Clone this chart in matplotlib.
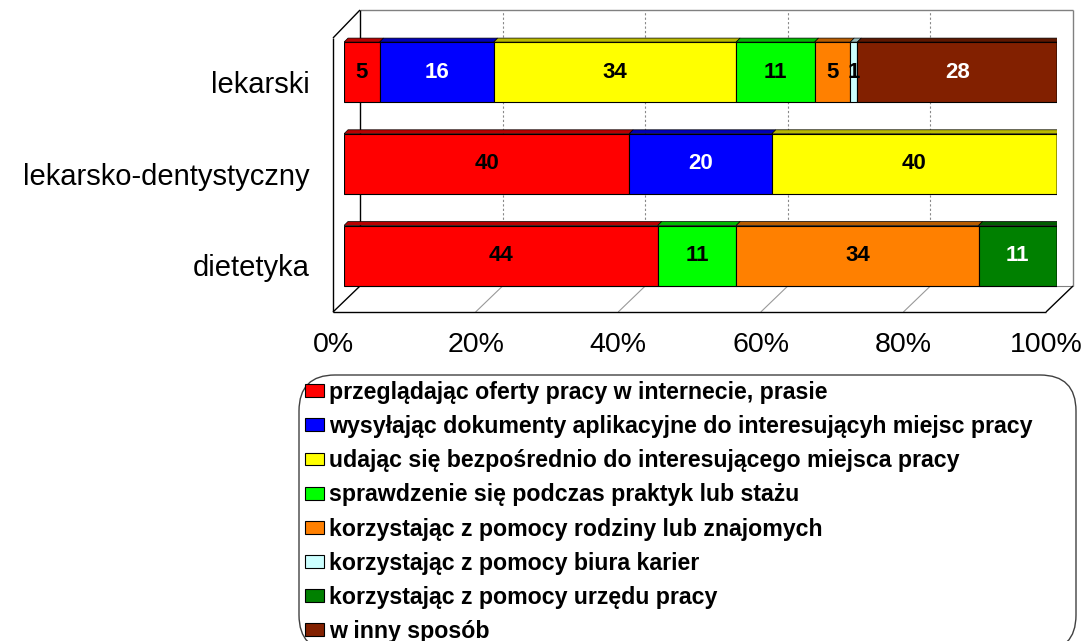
import matplotlib
matplotlib.use('Agg')
import matplotlib.pyplot as plt
from matplotlib.patches import Polygon, FancyBboxPatch, Patch
from matplotlib.colors import to_rgb
import numpy as np

plt.rcParams['font.family'] = ['Liberation Sans', 'DejaVu Sans']

# kierunki od dołu do góry
kierunki = ['dietetyka', 'lekarsko-dentystyczny', 'lekarski']
sposoby = [
    'przeglądając oferty pracy w internecie, prasie',
    'wysyłając dokumenty aplikacyjne do interesującyh miejsc pracy',
    'udając się bezpośrednio do interesującego miejsca pracy',
    'sprawdzenie się podczas praktyk lub stażu',
    'korzystając z pomocy rodziny lub znajomych',
    'korzystając z pomocy biura karier',
    'korzystając z pomocy urzędu pracy',
    'w inny sposób',
]
kolory = ['#ff0000', '#0000ff', '#ffff00', '#00ff00', '#ff8000', '#ccffff', '#008000', '#822000']
kolory_napisow = ['black', 'white', 'black', 'black', 'black', 'black', 'white', 'white']

# wartości (%) w kolejności: dietetyka, lekarsko-dentystyczny, lekarski
przegladajac = [44, 40, 5]
wysylajac = [0, 20, 16]
udajac = [0, 40, 34]
sprawdzenie = [11, 0, 11]
rodzina = [34, 0, 5]
biuro = [0, 0, 1]
urzad = [11, 0, 0]
inny = [0, 0, 28]
wartosci = [przegladajac, wysylajac, udajac, sprawdzenie, rodzina, biuro, urzad, inny]

procenty = [0, 20, 40, 60, 80, 100]
etykiety_osi = ['0%', '20%', '40%', '60%', '80%', '100%']

W, H = 1088, 641
fig = plt.figure(figsize=(W / 100, H / 100), dpi=100)
ax = fig.add_axes([344 / W, (H - 312) / H, 713 / W, 302 / H])
ymin, ymax = -0.616, 2.677
ax.set_xlim(0, 100)
ax.set_ylim(ymin, ymax)
ax.axis('off')

# przeliczenie pikseli na jednostki danych
sx = 100 / 713
sy = (ymax - ymin) / 302
tyl, przod = 16 * sx, -11 * sx
podloga_tyl = ymin + 26 * sy
gora_przod = ymax - 28 * sy


def linia(xs, ys, **kw):
    ax.plot(xs, ys, clip_on=False, solid_capstyle='butt', **kw)


# siatka
for t in procenty[1:-1]:
    linia([t + tyl, t + tyl], [podloga_tyl, ymax], color='#888888', lw=0.8, ls=(0, (2, 2)), zorder=0)
    linia([t + tyl, t + przod], [podloga_tyl, ymin], color='#999999', lw=0.8, zorder=0)

# ramka 3D
szary = '#808080'
linia([tyl, 100 + tyl], [ymax, ymax], color=szary, lw=1, zorder=0)
linia([100 + tyl, 100 + tyl], [ymax, podloga_tyl], color=szary, lw=1, zorder=0)
linia([tyl, 100 + tyl], [podloga_tyl, podloga_tyl], color=szary, lw=0.8, zorder=0)
linia([tyl, tyl], [ymax, podloga_tyl], color='black', lw=1, zorder=0)
linia([przod, 100 + przod], [ymin, ymin], color='black', lw=1, zorder=1)
linia([przod, tyl], [ymin, podloga_tyl], color='black', lw=1, zorder=1)
linia([100 + przod, 100 + tyl], [ymin, podloga_tyl], color='black', lw=1, zorder=1)
linia([przod, przod], [ymin, gora_przod], color='black', lw=1, zorder=1)
linia([przod, tyl], [gora_przod, ymax], color='black', lw=1, zorder=1)

# słupki
y = np.arange(len(kierunki))
h = 60 * sy
dx, dy = 4 * sx, 4 * sy
lewe = np.zeros(len(kierunki))
ostatnie = {}
for vals, kol, kn in zip(wartosci, kolory, kolory_napisow):
    vals = np.array(vals, dtype=float)
    m = vals > 0
    ax.barh(y[m], vals[m], left=lewe[m], height=h, color=kol, edgecolor='black', lw=0.8, zorder=2)
    ciemny = tuple(c * 0.72 for c in to_rgb(kol))
    for j in np.where(m)[0]:
        x0, x1 = lewe[j], lewe[j] + vals[j]
        gora = y[j] + h / 2
        ax.add_patch(Polygon([(x0, gora), (x0 + dx, gora + dy), (x1 + dx, gora + dy), (x1, gora)],
                             closed=True, facecolor=ciemny, edgecolor='black', lw=0.5, zorder=2))
        ax.text((x0 + x1) / 2, y[j], f'{vals[j]:.0f}', ha='center', va='center',
                fontsize=16, fontweight='bold', color=kn, zorder=4)
        ostatnie[j] = (x1, kol)
    lewe += vals

for j, (x1, kol) in ostatnie.items():
    ciemny = tuple(c * 0.55 for c in to_rgb(kol))
    dol, gora = y[j] - h / 2, y[j] + h / 2
    ax.add_patch(Polygon([(x1, dol), (x1 + dx, dol + dy), (x1 + dx, gora + dy), (x1, gora)],
                         closed=True, facecolor=ciemny, edgecolor='black', lw=0.5, zorder=2))

# opisy osi
for t, lab in zip(procenty, etykiety_osi):
    ax.text(t + przod, ymin - 20 * sy, lab, ha='center', va='top', fontsize=20.5, clip_on=False)
for j, nazwa in enumerate(kierunki):
    ax.text(-34 * sx, y[j] - 12.8 * sy, nazwa, ha='right', va='center', fontsize=21, clip_on=False)

# legenda
uchwyty = [Patch(facecolor=k, edgecolor='black', lw=0.8) for k in kolory]
fig.legend(uchwyty, sposoby, loc='upper left', bbox_to_anchor=(305 / W, (H - 381) / H),
           frameon=False, prop={'weight': 'bold', 'size': 16.7}, handlelength=0.8,
           handleheight=0.47, handletextpad=0.25, labelspacing=0.48, borderpad=0, borderaxespad=0)
ramka = FancyBboxPatch((2.99, -0.1), 10.76 - 2.99, (H - 375) / 100 + 0.1,
                       boxstyle='round,pad=0,rounding_size=0.36', transform=fig.dpi_scale_trans,
                       fill=False, edgecolor='#404040', lw=1)
fig.add_artist(ramka)

fig.savefig('out.png', dpi=100)
